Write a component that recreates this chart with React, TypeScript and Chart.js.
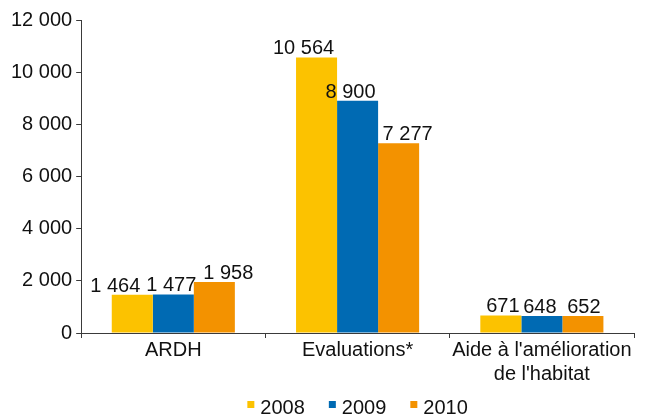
import React, { useEffect, useRef } from "react";
import { Chart, registerables } from "chart.js";

Chart.register(...registerables);

const categories: (string | string[])[] = ["ARDH", "Evaluations*", ["Aide à l'amélioration", "de l'habitat"]];
const seriesNames = ["2008", "2009", "2010"];
const values2008 = [1464, 10564, 671];
const values2009 = [1477, 8900, 648];
const values2010 = [1958, 7277, 652];
const yMin = 0;
const yMax = 12000;
const yStep = 2000;

const seriesColors = ["#FCC200", "#006AB3", "#F39200"];
const FONT = "'Liberation Sans', Arial, sans-serif";
const TEXT = "#111111";
const AXIS = "#3a3a3a";

const fmt = (n: number) => String(n).replace(/\B(?=(\d{3})+(?!\d))/g, " ");

// small horizontal nudges of value labels (per dataset, per category) to avoid overlap
const labelNudge = [
  [-17, -13, 2],
  [-2, -7, -2],
  [14, 9, 1],
];

const valueLabels = {
  id: "valueLabels",
  afterDatasetsDraw(chart: any) {
    const ctx = chart.ctx;
    ctx.save();
    ctx.font = `20px ${FONT}`;
    ctx.fillStyle = TEXT;
    ctx.textAlign = "center";
    ctx.textBaseline = "alphabetic";
    chart.data.datasets.forEach((ds: any, di: number) => {
      const meta = chart.getDatasetMeta(di);
      meta.data.forEach((bar: any, i: number) => {
        ctx.fillText(fmt(ds.data[i]), bar.x + labelNudge[di][i], bar.y - 3);
      });
    });
    ctx.restore();
  },
};

const customLegend = {
  id: "customLegend",
  afterDraw(chart: any) {
    const ctx = chart.ctx;
    const area = chart.chartArea;
    ctx.save();
    ctx.font = `20px ${FONT}`;
    ctx.textBaseline = "alphabetic";
    ctx.textAlign = "left";
    const box = 7;
    const gap = 6;
    const itemGap = 24;
    const widths = chart.data.datasets.map((ds: any) => box + gap + ctx.measureText(ds.label).width);
    const total = widths.reduce((a: number, b: number) => a + b, 0) + itemGap * (widths.length - 1);
    let x = (area.left + area.right) / 2 - total / 2;
    const baseline = chart.height - 2;
    chart.data.datasets.forEach((ds: any, i: number) => {
      ctx.fillStyle = ds.backgroundColor;
      ctx.fillRect(x, baseline - 13, box, box);
      ctx.fillStyle = TEXT;
      ctx.fillText(ds.label, x + box + gap, baseline);
      x += widths[i] + itemGap;
    });
    ctx.restore();
  },
};

export default function App() {
  const ref = useRef<HTMLCanvasElement | null>(null);
  useEffect(() => {
    if (!ref.current) return;
    const seriesValues = [values2008, values2009, values2010];
    const chart = new Chart(ref.current, {
      type: "bar",
      data: {
        labels: categories,
        datasets: seriesNames.map((name, i) => ({
          label: name,
          data: seriesValues[i],
          backgroundColor: seriesColors[i],
          borderWidth: 0,
          categoryPercentage: 0.668,
          barPercentage: 1,
        })),
      },
      options: {
        responsive: false,
        animation: false,
        layout: { padding: { left: 7, right: 20, top: 20, bottom: 30 } },
        plugins: {
          legend: { display: false },
          tooltip: { enabled: false },
        },
        scales: {
          x: {
            grid: {
              display: true,
              drawOnChartArea: false,
              drawTicks: true,
              tickLength: 5,
              offset: true,
              color: AXIS,
            },
            border: { display: true, color: AXIS, width: 1 },
            ticks: {
              color: TEXT,
              font: { family: FONT, size: 20, lineHeight: 1.2 },
              maxRotation: 0,
              minRotation: 0,
              autoSkip: false,
              padding: 0,
            },
          },
          y: {
            min: yMin,
            max: yMax,
            grid: {
              display: true,
              drawOnChartArea: false,
              drawTicks: true,
              tickLength: 5,
              color: AXIS,
            },
            border: { display: true, color: AXIS, width: 1 },
            ticks: {
              stepSize: yStep,
              color: TEXT,
              font: { family: FONT, size: 20 },
              padding: 4,
              callback: (v: any) => fmt(Number(v)),
            },
          },
        },
      },
      plugins: [valueLabels, customLegend],
    });
    return () => chart.destroy();
  }, []);
  return (
    <div style={{ position: "absolute", left: 0, top: 0, width: 654, height: 416 }}>
      <canvas ref={ref} width={654} height={416} />
    </div>
  );
}
